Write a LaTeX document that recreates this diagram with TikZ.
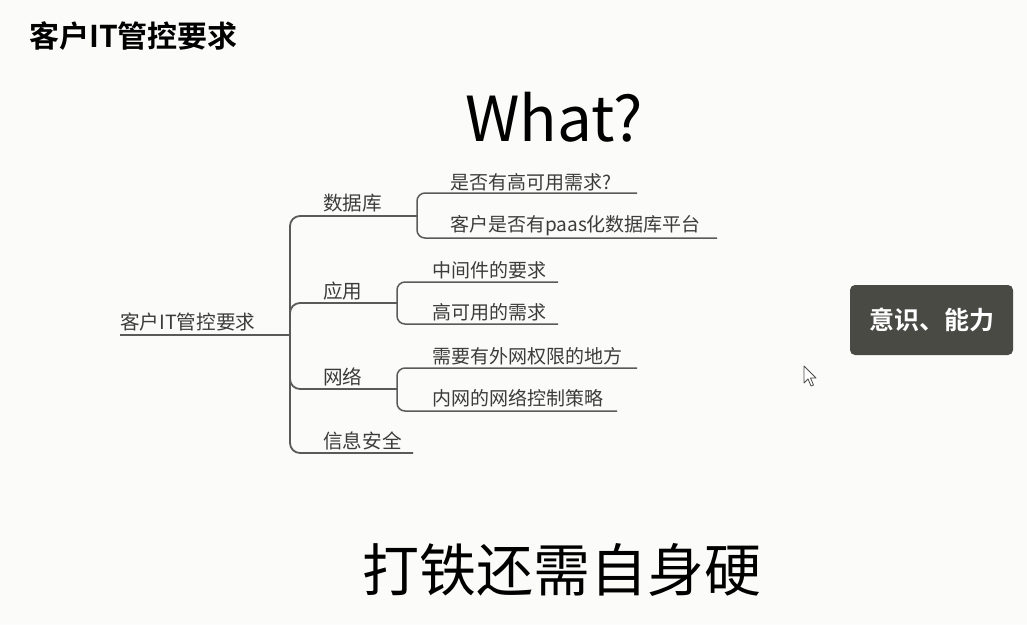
\documentclass[tikz,border=0pt]{standalone}
\usepackage{fontspec}
\setmainfont{Noto Sans CJK SC}
\newfontfamily\cjk{Noto Sans CJK SC}
\newfontfamily\cjkb{Noto Sans CJK SC Bold}
\definecolor{bg}{HTML}{FBFBF9}
\definecolor{mmtext}{HTML}{3C3C3C}
\definecolor{mmline}{HTML}{5A5A5A}
\definecolor{boxfill}{HTML}{4A4A45}
\tikzset{
  mm/.style={anchor=west, inner sep=0pt, text=mmtext, font=\cjk\fontsize{19.6}{20}\selectfont},
  mmsub/.style={anchor=west, inner sep=0pt, text=mmtext, font=\cjk\fontsize{19}{19}\selectfont},
  mainline/.style={draw=mmline, line width=1.8pt, rounded corners=10pt},
  subline/.style={draw=mmline, line width=1.5pt, rounded corners=8pt},
}
\begin{document}
\begin{tikzpicture}[x=1pt,y=-1pt]
\fill[bg] (0,0) rectangle (1027,625);
\useasboundingbox (0,0) rectangle (1027,625);

% headings
\node[anchor=west, inner sep=0pt, font=\cjkb\fontsize{30}{30}\selectfont] (title) at (29,36) {客户IT管控要求};
\node[inner sep=0pt, font=\cjk\fontsize{62}{62}\selectfont] (what) at (554,117) {What?};
\node[inner sep=0pt, font=\cjk\fontsize{57}{57}\selectfont] (slogan) at (562,570) {打铁还需自身硬};

% dark box
\node[fill=boxfill, rounded corners=5pt, minimum width=163pt, minimum height=70pt, inner sep=0pt,
      text=white, font=\cjkb\fontsize{25}{25}\selectfont] (box) at (931.5,320) {意识、能力};

% cursor
\draw[draw=black!70, fill=white, line width=0.8pt, line join=round]
  (804,366) -- (804,383) -- (808,379) -- (811,386) -- (813.5,385) -- (810.5,378) -- (816,378) -- cycle;

% ---- mind map texts ----
\node[mm] (root) at (120,322) {客户IT管控要求};
\node[mm] (db) at (323,203) {数据库};
\node[mm] (app) at (323,291) {应用};
\node[mm] (net) at (323,377) {网络};
\node[mm] (sec) at (323,441) {信息安全};

\node[mmsub] (db1) at (450,182) {是否有高可用需求?};
\node[mmsub] (db2) at (450,226) {客户是否有paas化数据库平台};
\node[mmsub] (app1) at (432,270) {中间件的要求};
\node[mmsub] (app2) at (432,312) {高可用的需求};
\node[mmsub] (net1) at (432,356) {需要有外网权限的地方};
\node[mmsub] (net2) at (432,398) {内网的网络控制策略};

% ---- mind map line points ----
\coordinate (rootL) at (120,335);
\coordinate (fork) at (290,335);
\coordinate (dbE) at (417,216);
\coordinate (appE) at (397,303);
\coordinate (netE) at (397,389);
\coordinate (secE) at (413,453);
\coordinate (db1E) at (637,193);
\coordinate (db2E) at (717,238);
\coordinate (app1E) at (558,282);
\coordinate (app2E) at (558,324);
\coordinate (net1E) at (637,368);
\coordinate (net2E) at (617,411);

% root underline
\draw[mainline] (rootL) -- (fork);
% trunk with first and last branch
\draw[mainline] (dbE) -- (fork |- dbE) -- (fork |- secE) -- (secE);
% middle branches
\draw[mainline] (appE) -- (fork |- appE) -- ([yshift=-12pt]fork |- appE);
\draw[mainline] (netE) -- (fork |- netE) -- ([yshift=12pt]fork |- netE);

% sub brackets
\draw[subline] (db1E) -- (dbE |- db1E) -- (dbE |- db2E) -- (db2E);
\draw[subline] (app1E) -- (appE |- app1E) -- (appE |- app2E) -- (app2E);
\draw[subline] (net1E) -- (netE |- net1E) -- (netE |- net2E) -- (net2E);
\end{tikzpicture}
\end{document}
